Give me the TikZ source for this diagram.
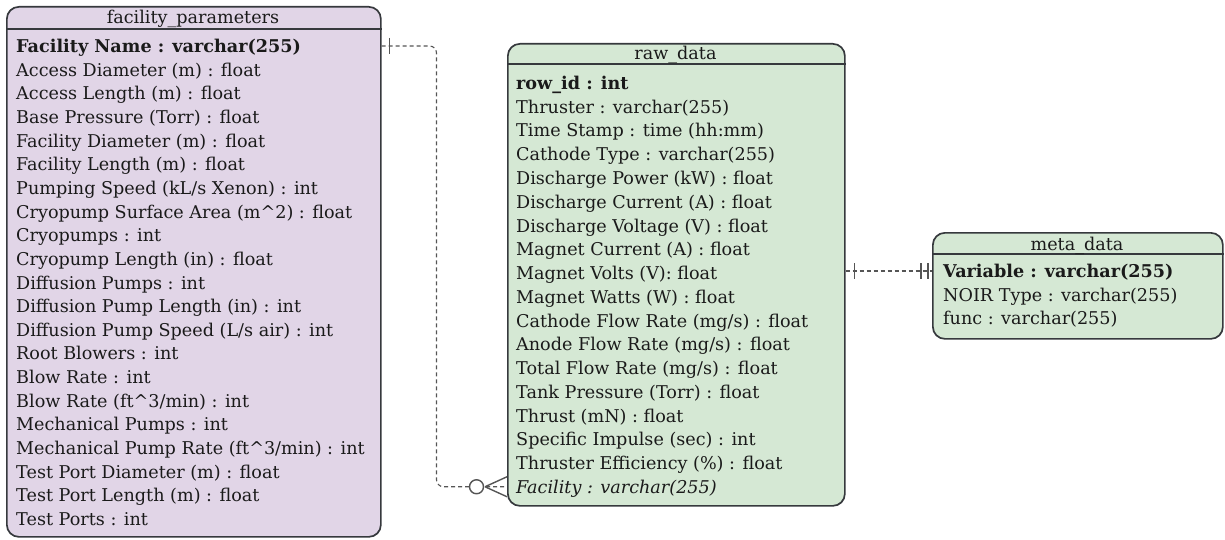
\documentclass[tikz,border=0pt]{standalone}
\usepackage{fontspec}
\setmainfont{DejaVu Serif}
\usetikzlibrary{calc}
\definecolor{purplefill}{HTML}{E1D5E7}
\definecolor{greenfill}{HTML}{D5E8D4}
\definecolor{edgegrey}{HTML}{36393D}
\definecolor{linkgrey}{HTML}{555555}
\definecolor{ink}{HTML}{1A1A1A}

\begin{document}
\begin{tikzpicture}[x=1pt,y=-1pt,
  tablebox/.style={draw=edgegrey, line width=1.7pt, rounded corners=12pt,
    inner sep=0pt, anchor=north west},
  divider/.style={draw=edgegrey, line width=1.5pt},
  tabletitle/.style={font=\fontsize{17.6}{21}\selectfont, text=ink, inner sep=0pt,
    text height=13pt, text depth=0pt, anchor=center},
  field/.style={font=\fontsize{17.6}{21}\selectfont, text=ink, inner sep=0pt,
    text height=13pt, text depth=0pt, anchor=west},
  keyfield/.style={field, font=\fontsize{17.6}{21}\selectfont\bfseries},
  fkfield/.style={field, font=\fontsize{17.6}{21}\selectfont\itshape},
  rel/.style={draw=linkgrey, line width=1.1pt, dash pattern=on 4pt off 3pt},
  relmark/.style={draw=linkgrey, line width=1.4pt},
]
\useasboundingbox (0,0) rectangle (1225,540);

% ---------------- facility_parameters ----------------
\node[tablebox, fill=purplefill, minimum width=374pt, minimum height=530pt] (fp) at (6,6) {};
\coordinate (fph) at (6,29);
\draw[divider] (fph) -- (fph -| fp.east);
\node[tabletitle] (fpt) at (193,17.5) {facility\_parameters};
\node[keyfield] (fp0) at (16,46) {Facility Name : varchar(255)};
\foreach \t [count=\i from 1] in {
  Access Diameter (m) : float,
  Access Length (m) : float,
  Base Pressure (Torr) : float,
  Facility Diameter (m) : float,
  Facility Length (m) : float,
  Pumping Speed (kL/s Xenon) : int,
  Cryopump Surface Area (m\textasciicircum2) : float,
  Cryopumps : int,
  Cryopump Length (in) : float,
  Diffusion Pumps : int,
  Diffusion Pump Length (in) : int,
  Diffusion Pump Speed (L/s air) : int,
  Root Blowers : int,
  Blow Rate : int,
  Blow Rate (ft\textasciicircum3/min) : int,
  Mechanical Pumps : int,
  Mechanical Pump Rate (ft\textasciicircum3/min) : int,
  Test Port Diameter (m) : float,
  Test Port Length (m) : float,
  Test Ports : int}
  \node[field] (fp\i) at (16,{46+\i*23.65}) {\t};

% ---------------- raw_data ----------------
\node[tablebox, fill=greenfill, minimum width=337pt, minimum height=462pt] (rd) at (507,43) {};
\coordinate (rdh) at (507,64);
\draw[divider] (rdh) -- (rdh -| rd.east);
\node[tabletitle] (rdt) at (675.5,53.5) {raw\_data};
\node[keyfield] (rd0) at (516,83) {row\_id : int};
\foreach \t [count=\i from 1] in {
  Thruster : varchar(255),
  Time Stamp : time (hh:mm),
  Cathode Type : varchar(255),
  Discharge Power (kW) : float,
  Discharge Current (A) : float,
  Discharge Voltage (V) : float,
  Magnet Current (A) : float,
  Magnet Volts (V): float,
  Magnet Watts (W) : float,
  Cathode Flow Rate (mg/s) : float,
  Anode Flow Rate (mg/s) : float,
  Total Flow Rate (mg/s) : float,
  Tank Pressure (Torr) : float,
  Thrust (mN) : float,
  Specific Impulse (sec) : int,
  Thruster Efficiency (\%) : float}
  \node[field] (rd\i) at (516,{83+\i*23.75}) {\t};
\node[fkfield] (rd17) at (516,{83+17*23.75}) {Facility : varchar(255)};

% ---------------- meta_data ----------------
\node[tablebox, fill=greenfill, minimum width=290pt, minimum height=106pt] (md) at (932,232) {};
\coordinate (mdh) at (932,254);
\draw[divider] (mdh) -- (mdh -| md.east);
\node[tabletitle] (mdt) at (1077,243.5) {meta\_data};
\node[keyfield] (md0) at (943,271) {Variable : varchar(255)};
\node[field] (md1) at (943,294.7) {NOIR Type : varchar(255)};
\node[field] (md2) at (943,318.4) {func : varchar(255)};

% ---------------- relations ----------------
% facility_parameters (one) -> raw_data (zero or many)
\coordinate (fpout) at (fp.east |- fp0.west);
\coordinate (rdin) at (rd.west |- rd17.west);
\coordinate (bend) at (436.5,0);
\draw[rel, rounded corners=7pt] (fpout) -| (bend |- rdin) -- (rdin);
\draw[relmark] ($(fpout)+(8,-8)$) -- ($(fpout)+(8,8)$);
\draw[relmark, fill=white] ($(rdin)+(-30.5,0)$) circle (7pt);
\draw[relmark] ($(rdin)+(-22,0)$) -- ($(rdin)+(0,-10)$)
               ($(rdin)+(-22,0)$) -- ($(rdin)+(0,10)$);

% raw_data (one) -> meta_data (one and only one)
\coordinate (rdout) at (rd.east |- md0.west);
\coordinate (mdin) at (md.west |- md0.west);
\draw[rel] (rdout) -- (mdin);
\draw[relmark] ($(rdout)+(9,-8)$) -- ($(rdout)+(9,8)$);
\draw[relmark] ($(mdin)+(-11,-8)$) -- ($(mdin)+(-11,8)$);
\draw[relmark] ($(mdin)+(-4,-8)$) -- ($(mdin)+(-4,8)$);
\end{tikzpicture}
\end{document}
